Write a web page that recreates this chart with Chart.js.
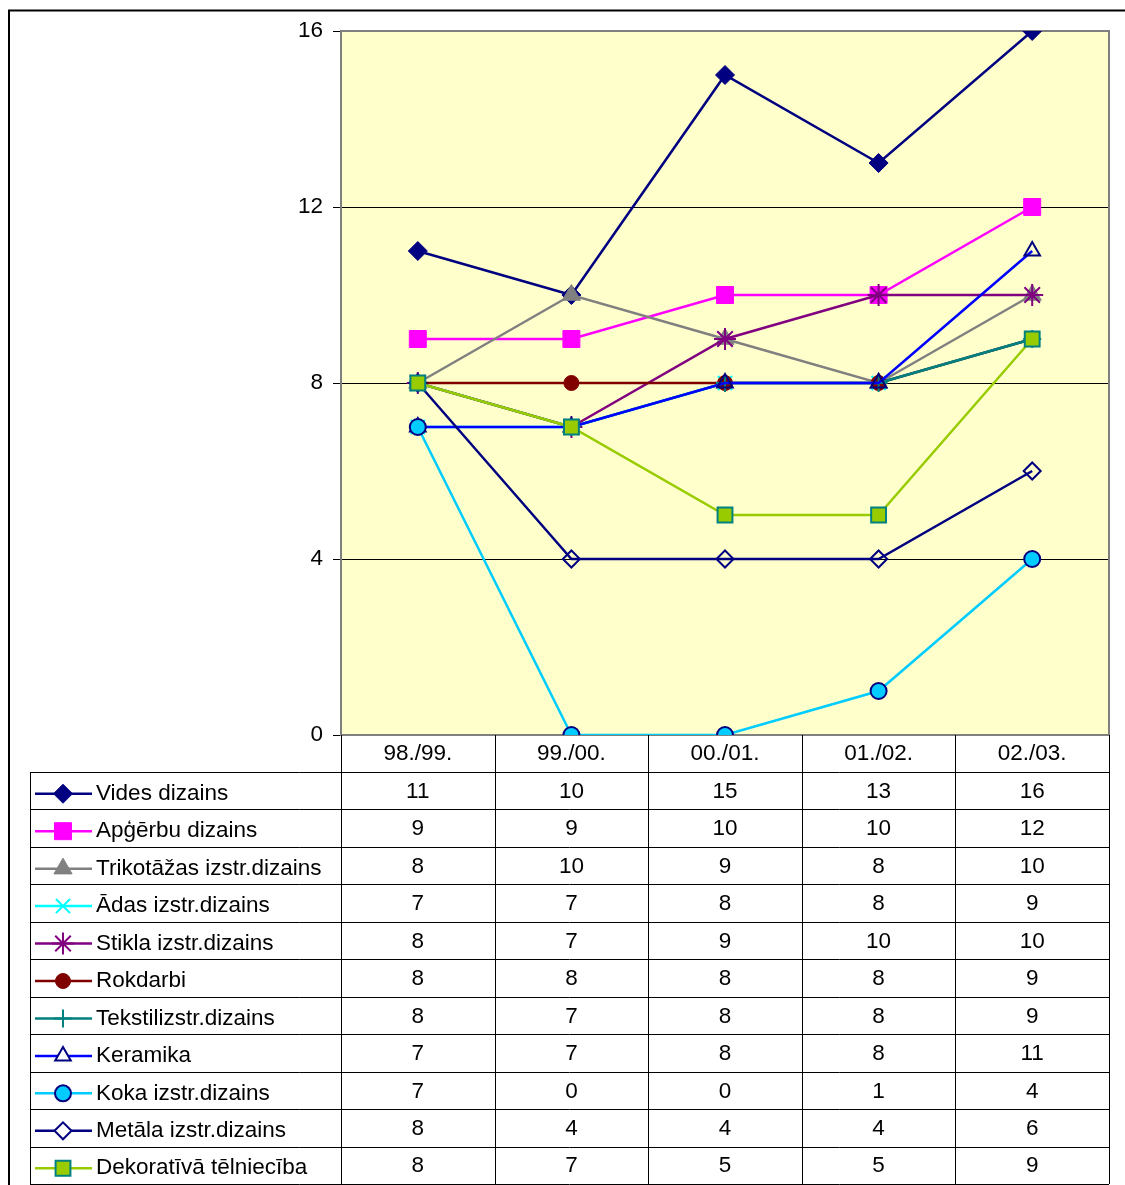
<!DOCTYPE html>
<html>
<head>
<meta charset="utf-8">
<script src="https://cdn.jsdelivr.net/npm/chart.js"></script>
<style>
  body { margin: 0; background: #fff; }
  #wrap { width: 1125px; height: 1185px; }
</style>
</head>
<body>
<div id="wrap"><canvas id="chart" width="1125" height="1185"></canvas></div>
<script>
// dati
const periods = ['98./99.', '99./00.', '00./01.', '01./02.', '02./03.'];
const yTicks = [0, 4, 8, 12, 16];

const videsDizains = [11, 10, 15, 13, 16];
const apgerbuDizains = [9, 9, 10, 10, 12];
const trikotazasDizains = [8, 10, 9, 8, 10];
const adasDizains = [7, 7, 8, 8, 9];
const stiklaDizains = [8, 7, 9, 10, 10];
const rokdarbi = [8, 8, 8, 8, 9];
const tekstilDizains = [8, 7, 8, 8, 9];
const keramika = [7, 7, 8, 8, 11];
const kokaDizains = [7, 0, 0, 1, 4];
const metalaDizains = [8, 4, 4, 4, 6];
const dekorTelnieciba = [8, 7, 5, 5, 9];

const FONT = '"Liberation Sans", Arial, sans-serif';
const FONT_SIZE = 22.5;

function series(label, data, line, style, radius, fill, border, bw) {
  return {
    label: label,
    data: data,
    borderColor: line,
    borderWidth: 2.5,
    pointStyle: style,
    pointRadius: radius,
    pointHoverRadius: radius,
    pointBackgroundColor: fill,
    pointBorderColor: border,
    pointBorderWidth: bw,
    tension: 0,
    fill: false
  };
}

const datasets = [
  series('Vides dizains', videsDizains, '#000080', 'rectRot', 9.5, '#000080', '#000080', 1),
  series('Apģērbu dizains', apgerbuDizains, '#FF00FF', 'rect', 12, '#FF00FF', '#FF00FF', 1),
  series('Trikotāžas izstr.dizains', trikotazasDizains, '#808080', 'triangle', 10.5, '#808080', '#808080', 1),
  series('Ādas izstr.dizains', adasDizains, '#00FFFF', 'crossRot', 10, '#00FFFF', '#00FFFF', 2),
  series('Stikla izstr.dizains', stiklaDizains, '#800080', 'star', 11, '#800080', '#800080', 2),
  series('Rokdarbi', rokdarbi, '#800000', 'circle', 7.5, '#800000', '#800000', 1),
  series('Tekstilizstr.dizains', tekstilDizains, '#008080', 'cross', 9, '#008080', '#008080', 2),
  series('Keramika', keramika, '#0000FF', 'triangle', 9, 'rgba(0,0,0,0)', '#000080', 2),
  series('Koka izstr.dizains', kokaDizains, '#00CCFF', 'circle', 8, '#00CCFF', '#000080', 2),
  series('Metāla izstr.dizains', metalaDizains, '#000080', 'rectRot', 8.5, 'rgba(0,0,0,0)', '#000080', 2),
  series('Dekoratīvā tēlniecība', dekorTelnieciba, '#99CC00', 'rect', 10.5, '#99CC00', '#008080', 2)
];
// later series on top, as in Excel
datasets.forEach((d, i) => { d.order = datasets.length - i; });

// frame, plot background and data table
const tablePlugin = {
  id: 'tablePlugin',
  beforeDraw(chart) {
    const ctx = chart.ctx;
    const a = chart.chartArea;
    ctx.save();
    ctx.fillStyle = '#fff';
    ctx.fillRect(0, 0, chart.width, chart.height);
    ctx.strokeStyle = '#000';
    ctx.lineWidth = 2;
    ctx.beginPath();
    ctx.moveTo(9, 1185);
    ctx.lineTo(9, 10.5);
    ctx.lineTo(1125, 10.5);
    ctx.stroke();
    ctx.fillStyle = '#FFFFCC';
    ctx.fillRect(a.left, a.top, a.right - a.left, a.bottom - a.top);
    ctx.restore();
  },
  beforeDatasetsDraw(chart) {
    const ctx = chart.ctx;
    const a = chart.chartArea;
    ctx.save();
    ctx.strokeStyle = '#808080';
    ctx.lineWidth = 2;
    ctx.strokeRect(a.left, a.top, a.right - a.left, a.bottom - a.top);
    ctx.restore();
  },
  afterDraw(chart) {
    const ctx = chart.ctx;
    const a = chart.chartArea;
    const xs = chart.scales.x;
    const n = chart.data.labels.length;
    const colW = (a.right - a.left) / n;
    const headTop = a.bottom;
    const rowsTop = a.bottom + 37;
    const rowsBottom = 1184;
    const sets = chart.data.datasets;
    const rowH = (rowsBottom - rowsTop) / sets.length;
    const legLeft = 30;

    ctx.save();
    ctx.strokeStyle = '#000';
    ctx.lineWidth = 1;
    ctx.beginPath();
    // vertical lines
    for (let i = 0; i <= n; i++) {
      const x = Math.round(a.left + i * colW) + 0.5;
      ctx.moveTo(x, headTop);
      ctx.lineTo(x, rowsBottom);
    }
    ctx.moveTo(legLeft + 0.5, rowsTop);
    ctx.lineTo(legLeft + 0.5, rowsBottom);
    // horizontal lines
    for (let r = 0; r <= sets.length; r++) {
      const y = Math.round(rowsTop + r * rowH) + 0.5;
      ctx.moveTo(legLeft, y);
      ctx.lineTo(a.right, y);
    }
    ctx.stroke();

    ctx.fillStyle = '#000';
    ctx.font = FONT_SIZE + 'px ' + FONT;
    ctx.textAlign = 'center';
    ctx.textBaseline = 'middle';
    chart.data.labels.forEach((lab, i) => {
      ctx.fillText(lab, xs.getPixelForValue(i), headTop + 19);
    });

    sets.forEach((ds, r) => {
      const cy = rowsTop + r * rowH + rowH / 2 + 1;
      ctx.textAlign = 'center';
      ctx.fillStyle = '#000';
      ds.data.forEach((v, i) => {
        ctx.fillText(String(v), xs.getPixelForValue(i), cy);
      });
      // legend key
      ctx.strokeStyle = ds.borderColor;
      ctx.lineWidth = 2.5;
      ctx.beginPath();
      ctx.moveTo(35, cy + 2);
      ctx.lineTo(92, cy + 2);
      ctx.stroke();
      const bg = ds.pointBackgroundColor === 'rgba(0,0,0,0)' ? '#fff' : ds.pointBackgroundColor;
      ctx.fillStyle = bg;
      ctx.strokeStyle = ds.pointBorderColor;
      ctx.lineWidth = ds.pointBorderWidth;
      if (Chart.helpers && Chart.helpers.drawPoint) {
        Chart.helpers.drawPoint(ctx, {
          pointStyle: ds.pointStyle,
          radius: ds.pointRadius,
          borderWidth: ds.pointBorderWidth,
          rotation: 0
        }, 63, cy + 2);
      }
      ctx.fillStyle = '#000';
      ctx.textAlign = 'left';
      ctx.fillText(ds.label, 96, cy + 2);
    });
    ctx.restore();
  }
};

new Chart(document.getElementById('chart'), {
  type: 'line',
  data: { labels: periods, datasets: datasets },
  options: {
    responsive: false,
    animation: false,
    devicePixelRatio: 1,
    layout: { padding: { left: 0, top: 31, right: 16, bottom: 450 } },
    plugins: {
      legend: { display: false },
      tooltip: { enabled: false }
    },
    scales: {
      x: { display: false, offset: true },
      y: {
        min: yTicks[0],
        max: yTicks[yTicks.length - 1],
        afterFit(scale) { scale.width = 341; },
        afterBuildTicks(scale) { scale.ticks = yTicks.map(v => ({ value: v })); },
        border: { display: false },
        grid: { color: '#000', lineWidth: 1, tickLength: 8, tickColor: '#000' },
        ticks: { color: '#000', padding: 10, font: { family: FONT, size: FONT_SIZE } }
      }
    }
  },
  plugins: [tablePlugin]
});
</script>
</body>
</html>
